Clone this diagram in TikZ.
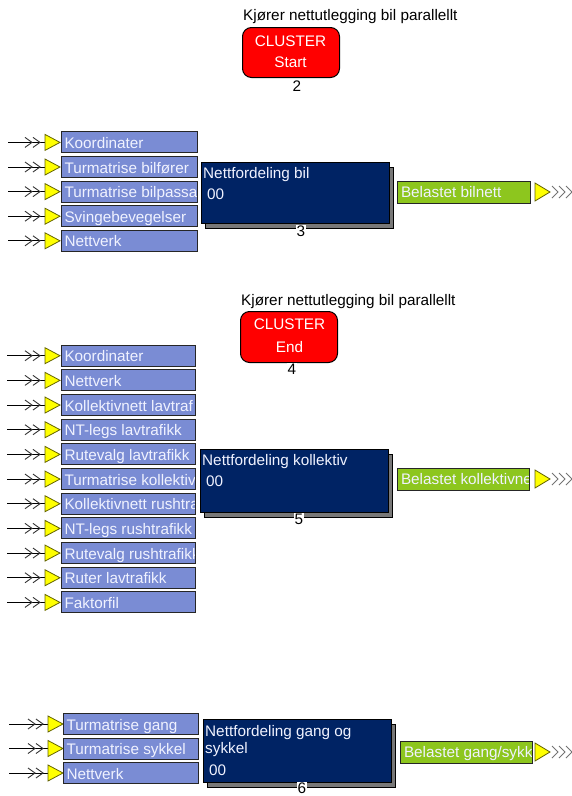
\documentclass[tikz,border=0pt]{standalone}
\usepackage{fontspec}
\setmainfont{Liberation Sans}
\usetikzlibrary{shadows}

\definecolor{feedblue}{RGB}{122,140,212}
\definecolor{navy}{RGB}{0,35,100}
\definecolor{shadowgray}{RGB}{120,120,120}
\definecolor{outgreen}{RGB}{141,198,30}
\definecolor{tipyellow}{RGB}{255,255,0}
\definecolor{tipedge}{RGB}{100,100,0}
\definecolor{paletext}{RGB}{240,242,255}

\tikzset{
  every node/.style={font=\fontsize{15.3}{18}\selectfont},
  feedline/.style={draw=black, line width=1pt},
  chev/.style={draw=black!80, line width=0.9pt},
  outchev/.style={draw=black!55, line width=0.9pt},
  tip/.style={fill=tipyellow, draw=tipedge, line width=0.8pt},
  cliptext/.style={anchor=base west, inner sep=0pt, draw=none, fill=none,
    minimum width=0pt, minimum height=0pt, text=paletext},
  inbox/.style={rectangle, draw=black!85, line width=1pt, fill=feedblue,
    inner sep=0pt, anchor=west, minimum height=21pt,
    path picture={\node[cliptext] at ([xshift=2.5pt,yshift=-6pt]path picture bounding box.west) {#1};}},
  outbox/.style={rectangle, draw=black!85, line width=1pt, fill=outgreen,
    inner sep=0pt, anchor=west, minimum height=22pt, minimum width=133pt,
    path picture={\node[cliptext] at ([xshift=3pt,yshift=-5pt]path picture bounding box.west) {#1};}},
  block/.style={rectangle, fill=navy, draw=black, line width=1pt, inner sep=0pt,
    anchor=north west, minimum width=188pt,
    drop shadow={shadow xshift=4pt, shadow yshift=-5pt, fill=shadowgray,
      draw=black, line width=1pt, opacity=1}},
  blocktext/.style={anchor=base west, inner sep=0pt, text=paletext},
  cluster/.style={rectangle, rounded corners=9pt, fill=red, draw=black,
    line width=1pt, anchor=north west, minimum width=97pt, minimum height=50pt},
  clustertext/.style={text=white, inner sep=0pt},
  numtag/.style={fill=white, inner sep=0.6pt, text=black},
  caption/.style={anchor=base west, inner sep=0pt, text=black}
}

% one incoming feed: arrow, yellow tip and labelled box
% #1 name, #2 centre y, #3 line start x, #4 tip left x, #5 box left x, #6 box width, #7 label
\newcommand\feedrow[7]{%
  \coordinate (#1s) at (#3,#2);
  \coordinate (#1t) at (#4,#2);
  \draw[feedline] (#1s) -- (#1t);
  \draw[chev] (#4-20,#2) ++(0,-5) -- ++(7,5) -- ++(-7,5);
  \draw[chev] (#4-12,#2) ++(0,-5) -- ++(7,5) -- ++(-7,5);
  \filldraw[tip] (#1t) ++(0,-8) -- ++(15,8) -- ++(-15,8) -- cycle;
  \node[inbox={#7}, minimum width=#6pt] (#1) at (#5,#2) {};
}

% outgoing tip after an output box: #1 name, #2 tip left x, #3 centre y
\newcommand\outtip[3]{%
  \coordinate (#1) at (#2,#3);
  \filldraw[tip] (#1) ++(0,-9) -- ++(15,9) -- ++(-15,9) -- cycle;
  \foreach \dx in {17,24,31}
    \draw[outchev] (#2+\dx,#3) ++(0,-6) -- ++(6,6) -- ++(-6,6);
}

\begin{document}
\begin{tikzpicture}[x=1pt,y=-1pt]
\useasboundingbox (0,0) rectangle (571,796);

% ---------- cluster start ----------
\node[caption] (cap1) at (243,20) {Kjører nettutlegging bil parallellt};
\node[cluster] (cs) at (242,27) {};
\node[clustertext] (csa) at (290.5,41) {CLUSTER};
\node[clustertext] (csb) at (290.5,62) {Start};
\node[numtag] (n2) at (297,86) {2};

% ---------- Nettfordeling bil ----------
\foreach \lab [count=\i, evaluate=\i as \yy using 142.4+24.6*(\i-1)] in
  {Koordinater, Turmatrise bilfører, Turmatrise bilpassas, Svingebevegelser, Nettverk}
  {\feedrow{fa\i}{\yy}{8}{45}{61}{136}{\lab}}

\node[block, minimum height=61pt] (b1) at (201,162) {};
\node[blocktext] (b1a) at (203,178) {Nettfordeling bil};
\node[blocktext] (b1b) at (207,199) {00};
\node[numtag] (n3) at (301,231) {3};

\node[outbox={Belastet bilnett}] (o1) at (397,192) {};
\outtip{o1t}{535}{192}

% ---------- cluster end ----------
\node[caption] (cap2) at (241,305) {Kjører nettutlegging bil parallellt};
\node[cluster, minimum height=51pt] (ce) at (240,311) {};
\node[clustertext] (cea) at (289.5,324) {CLUSTER};
\node[clustertext] (ceb) at (289.5,347) {End};
\node[numtag] (n4) at (292,369) {4};

% ---------- Nettfordeling kollektiv ----------
\foreach \lab [count=\i, evaluate=\i as \yy using 355.7+24.67*(\i-1)] in
  {Koordinater, Nettverk, Kollektivnett lavtraf, NT-legs lavtrafikk,
   Rutevalg lavtrafikk, Turmatrise kollektiv, Kollektivnett rushtra,
   NT-legs rushtrafikk, Rutevalg rushtrafikk, Ruter lavtrafikk, Faktorfil}
  {\feedrow{fb\i}{\yy}{7}{45}{61}{134}{\lab}}

\node[block, minimum height=63pt] (b2) at (200,449) {};
\node[blocktext] (b2a) at (202,465) {Nettfordeling kollektiv};
\node[blocktext] (b2b) at (206,486) {00};
\node[numtag] (n5) at (299,519) {5};

\node[outbox={Belastet kollektivne}, minimum width=132pt] (o2) at (397,479) {};
\outtip{o2t}{535}{479}

% ---------- Nettfordeling gang og sykkel ----------
\foreach \lab [count=\i, evaluate=\i as \yy using 724+24.5*(\i-1)] in
  {Turmatrise gang, Turmatrise sykkel, Nettverk}
  {\feedrow{fc\i}{\yy}{9}{48}{63}{135}{\lab}}

\node[block, minimum height=63pt] (b3) at (203,719) {};
\node[blocktext] (b3a) at (205,736) {Nettfordeling gang og};
\node[blocktext] (b3b) at (205,753) {sykkel};
\node[blocktext] (b3c) at (209,775) {00};
\node[numtag] (n6) at (302,788) {6};

\node[outbox={Belastet gang/sykk}, minimum width=132pt] (o3) at (400,752) {};
\outtip{o3t}{535}{752}

\end{tikzpicture}
\end{document}
